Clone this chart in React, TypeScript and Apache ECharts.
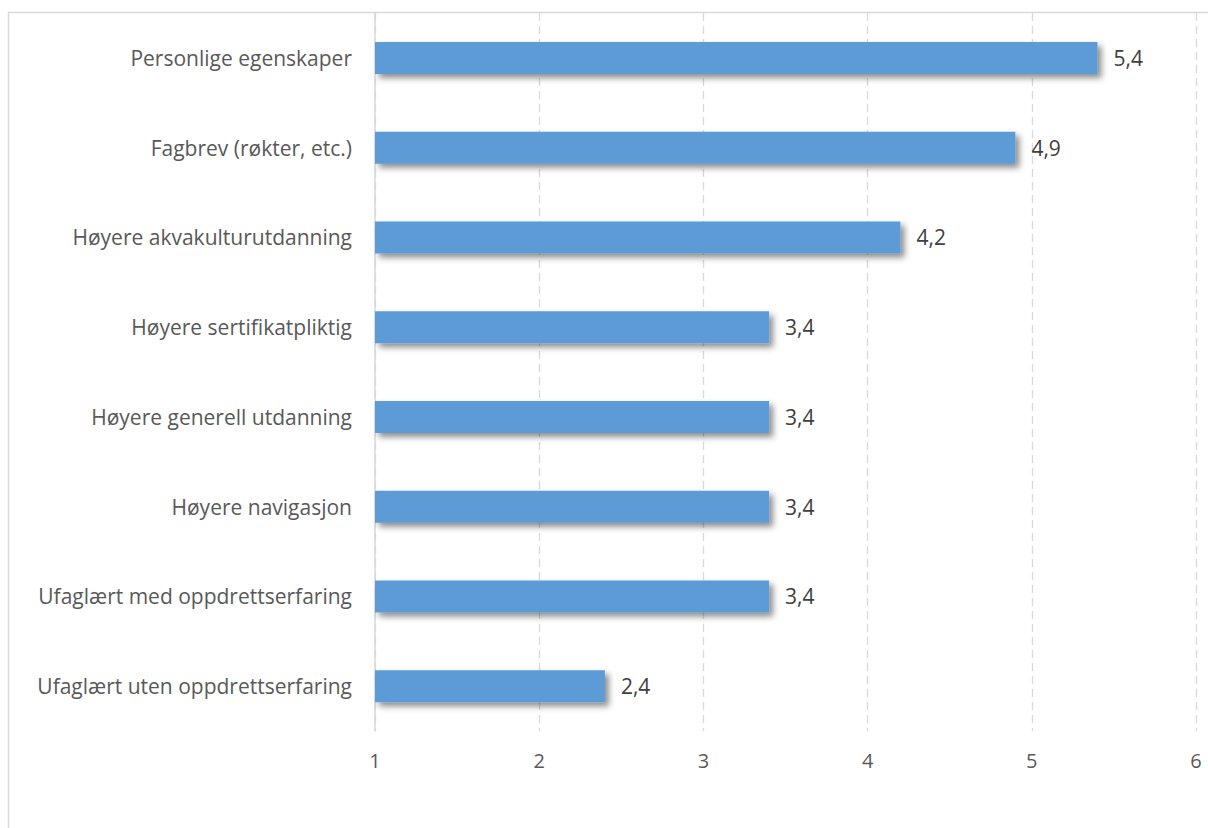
import React, { useEffect, useRef } from "react";
import * as echarts from "echarts";

const categories = [
  "Personlige egenskaper",
  "Fagbrev (røkter, etc.)",
  "Høyere akvakulturutdanning",
  "Høyere sertifikatpliktig",
  "Høyere generell utdanning",
  "Høyere navigasjon",
  "Ufaglært med oppdrettserfaring",
  "Ufaglært uten oppdrettserfaring",
];
const values = [5.4, 4.9, 4.2, 3.4, 3.4, 3.4, 3.4, 2.4];
const xMin = 1;
const xMax = 6;

export default function App() {
  const ref = useRef<HTMLDivElement>(null);
  useEffect(() => {
    if (!ref.current) return;
    const chart = echarts.init(ref.current, null, { renderer: "svg" });
    const font = "'Open Sans', sans-serif";
    chart.setOption({
      animation: false,
      backgroundColor: "#ffffff",
      graphic: [
        {
          type: "rect",
          shape: { x: 8.5, y: 12.5, width: 1400, height: 1000 },
          style: { fill: "none", stroke: "#d9d9d9", lineWidth: 1.5 },
          silent: true,
          z: -1,
        },
      ],
      grid: { left: 375, right: 12, top: 13, bottom: 97, containLabel: false },
      xAxis: {
        type: "value",
        min: xMin,
        max: xMax,
        interval: 1,
        axisLine: { show: false },
        axisTick: { show: false },
        axisLabel: { color: "#595959", fontSize: 20, fontFamily: font, margin: 19 },
        splitLine: { show: true, lineStyle: { color: "#d9d9d9", width: 1.3, type: [8, 5] } },
      },
      yAxis: {
        type: "category",
        data: categories,
        inverse: true,
        axisLine: { show: true, lineStyle: { color: "#d9d9d9", width: 1.5 } },
        axisTick: { show: false },
        axisLabel: { color: "#595959", fontSize: 21, fontFamily: font, margin: 23 },
      },
      series: [
        {
          type: "bar",
          data: values,
          barWidth: 32,
          itemStyle: {
            color: "#5b9bd5",
            shadowColor: "rgba(0,0,0,0.45)",
            shadowBlur: 6,
            shadowOffsetX: 4,
            shadowOffsetY: 4,
          },
          label: {
            show: true,
            position: "right",
            distance: 16,
            color: "#404040",
            fontSize: 21,
            fontFamily: font,
            formatter: (p: any) => String(p.value).replace(".", ","),
          },
        },
      ],
    });
    return () => chart.dispose();
  }, []);
  return (
    <div
      ref={ref}
      style={{ position: "absolute", left: 0, top: 0, width: 1208, height: 828 }}
    />
  );
}
